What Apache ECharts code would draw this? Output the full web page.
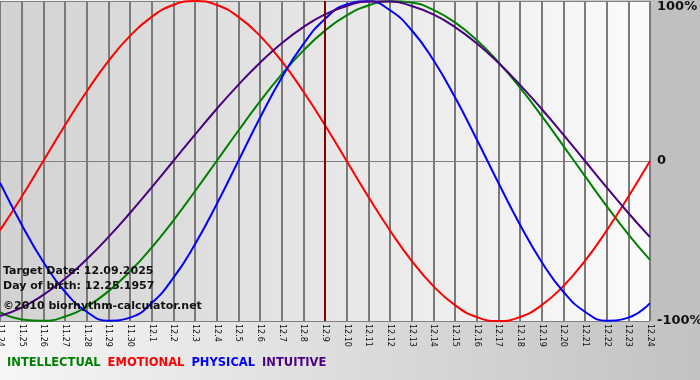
<!DOCTYPE html>
<html><head><meta charset="utf-8">
<script src="https://cdn.jsdelivr.net/npm/echarts@6/dist/echarts.min.js"></script>
<style>html,body{margin:0;padding:0;}#c{width:700px;height:380px;}</style>
</head><body><div id="c"></div>
<script>
const categories = ['11.24','11.25','11.26','11.27','11.28','11.29','11.30','12.1','12.2','12.3','12.4','12.5','12.6','12.7','12.8','12.9','12.10','12.11','12.12','12.13','12.14','12.15','12.16','12.17','12.18','12.19','12.20','12.21','12.22','12.23','12.24'];
const intellectual = [-94.5,-99.0,-99.9,-97.2,-91.0,-81.5,-69.0,-54.1,-37.2,-18.9,0,18.9,37.2,54.1,69.0,81.5,91.0,97.2,99.9,99.0,94.5,86.6,75.6,61.8,45.8,28.2,9.5,-9.5,-28.2,-45.8,-61.8];
const emotional = [-43.4,-22.3,0,22.3,43.4,62.4,78.2,90.1,97.5,100,97.5,90.1,78.2,62.4,43.4,22.3,0,-22.3,-43.4,-62.4,-78.2,-90.1,-97.5,-100,-97.5,-90.1,-78.2,-62.4,-43.4,-22.3,0];
const physical = [-13.6,-39.8,-63.1,-81.7,-94.2,-99.8,-97.9,-88.8,-73.1,-52.0,-27.0,0,27.0,52.0,73.1,88.8,97.9,99.8,94.2,81.7,63.1,39.8,13.6,-13.6,-39.8,-63.1,-81.7,-94.2,-99.8,-97.9,-88.8];
const intuitive = [-96.9,-91.6,-83.7,-73.6,-61.4,-47.6,-32.5,-16.5,0,16.5,32.5,47.6,61.4,73.6,83.7,91.6,96.9,99.7,99.7,96.9,91.6,83.7,73.6,61.4,47.6,32.5,16.5,0,-16.5,-32.5,-47.6];
const yTicks = {'100':'100%','0':'0','-100':'-100%'};
const targetDay = '12.9';
const infoLines = ['Target Date: 12.09.2025','Day of birth: 12.25.1957','\u00a92010 biorhythm-calculator.net'];

const FONT = 'DejaVu Sans';
const chart = echarts.init(document.getElementById('c'), null, {renderer:'canvas'});
const mk = (name, data, color) => ({
  name, type:'line', data, smooth:true, showSymbol:false, symbol:'none',
  lineStyle:{color, width:2}, itemStyle:{color}, animation:false
});
const series = [
  mk('INTELLECTUAL', intellectual, '#008000'),
  mk('EMOTIONAL', emotional, '#ff0000'),
  mk('PHYSICAL', physical, '#0000ff'),
  mk('INTUITIVE', intuitive, '#4b0082')
];
series[0].markLine = {silent:true, symbol:'none', label:{show:false}, animation:false,
  lineStyle:{color:'#800000', width:2, type:'solid'}, data:[{xAxis:targetDay}]};

chart.setOption({
  animation:false,
  backgroundColor:{type:'linear',x:0,y:0,x2:1,y2:0,colorStops:[{offset:0,color:'#f6f6f6'},{offset:1,color:'#c2c2c2'}]},
  grid:{left:0,right:50,top:1,bottom:59,show:true,borderWidth:0,containLabel:false,outerBoundsMode:'none',
    backgroundColor:{type:'linear',x:0,y:0,x2:1,y2:0,colorStops:[{offset:0,color:'#d2d2d2'},{offset:1,color:'#fbfbfb'}]}},
  graphic:[
    {type:'rect', right:0, top:0, shape:{width:50,height:321}, style:{fill:'#c0c0c0'}, z:-1},
    ...infoLines.map((t,i)=>({type:'text', left:3, top:[266,281,301][i], z:100,
      style:{text:t, fill:'#111', font:'bold 11px "'+FONT+'"'}}))
  ],
  legend:{left:-3, top:352, icon:'none', itemWidth:0, itemHeight:0, itemGap:2,
    textStyle:{fontFamily:FONT, fontWeight:'bold', fontSize:11.5, padding:0},
    data:[
      {name:'INTELLECTUAL', textStyle:{color:'#008000'}},
      {name:'EMOTIONAL', textStyle:{color:'#ff0000'}},
      {name:'PHYSICAL', textStyle:{color:'#0000ff'}},
      {name:'INTUITIVE', textStyle:{color:'#4b0082'}}
    ]},
  xAxis:{type:'category', data:categories, boundaryGap:false,
    axisLine:{show:true, lineStyle:{color:'#808080', width:1}},
    axisTick:{show:true, length:5, lineStyle:{color:'#808080', width:1}},
    axisLabel:{rotate:-90, interval:0, fontFamily:FONT, fontSize:8, color:'#111', margin:3},
    splitLine:{show:true, lineStyle:{color:'#7a7a7a', width:2}}},
  yAxis:{type:'value', min:-100, max:100, interval:100, position:'right',
    axisLine:{show:false}, axisTick:{show:false},
    axisLabel:{margin:7, formatter:v=> v===100 ? '{t|'+yTicks[v]+'}' : '{n|'+yTicks[String(v)]+'}',
      rich:{t:{fontFamily:FONT,fontWeight:'bold',fontSize:13,color:'#111',padding:[12,0,0,0]},
            n:{fontFamily:FONT,fontWeight:'bold',fontSize:13,color:'#111'}}},
    splitLine:{show:true, lineStyle:{color:'#808080', width:1}}},
  series
});
</script></body></html>
